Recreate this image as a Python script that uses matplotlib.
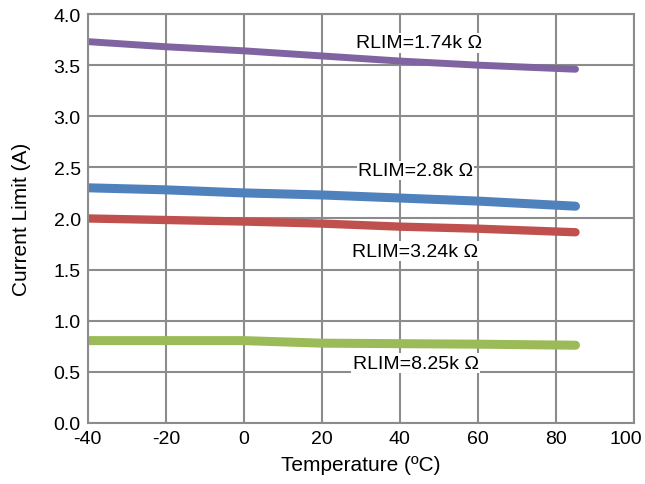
import matplotlib
matplotlib.use("Agg")
from matplotlib import pyplot as plt
from matplotlib.transforms import ScaledTranslation

plt.rcParams['font.family'] = ['Liberation Sans', 'DejaVu Sans']
plt.rcParams['axes.unicode_minus'] = False

temp = [-40, -20, 0, 20, 40, 60, 85]
i_174 = [3.73, 3.68, 3.64, 3.59, 3.54, 3.50, 3.46]
i_28 = [2.30, 2.28, 2.25, 2.23, 2.20, 2.17, 2.12]
i_324 = [2.00, 1.985, 1.97, 1.95, 1.92, 1.90, 1.865]
i_825 = [0.805, 0.805, 0.805, 0.78, 0.775, 0.77, 0.76]

labels = ['RLIM=1.74k Ω', 'RLIM=2.8k Ω', 'RLIM=3.24k Ω', 'RLIM=8.25k Ω']
label_pos = [(45, 3.72), (44, 2.47), (44, 1.68), (44, 0.585)]

fig = plt.figure(figsize=(6.45, 4.85), dpi=100)
ax = fig.add_axes([0.136, 0.126, 0.847, 0.843])

ax.plot(temp, i_174, color='#8064a2', lw=5, solid_capstyle='round')
ax.plot(temp, i_28, color='#4f81bd', lw=6.5, solid_capstyle='round')
ax.plot(temp, i_324, color='#c0504d', lw=6, solid_capstyle='round')
ax.plot(temp, i_825, color='#9bbb59', lw=6.5, solid_capstyle='round')

for txt, (x, y) in zip(labels, label_pos):
    ax.text(x, y, txt, ha='center', va='center', fontsize=14,
            bbox=dict(facecolor='white', edgecolor='none', pad=1))

ax.set_xlim(-40, 100)
ax.set_ylim(0, 4)
ax.set_xticks(range(-40, 101, 20))
ax.set_yticks([0, 0.5, 1, 1.5, 2, 2.5, 3, 3.5, 4])
ax.set_yticklabels(['%.1f' % v for v in ax.get_yticks()])
ax.grid(True, color='#8c8c8c', lw=1.5)
ax.set_axisbelow(True)
for s in ax.spines.values():
    s.set_color('#8c8c8c')
    s.set_linewidth(1.5)
ax.tick_params(length=0, labelsize=14, pad=5)

# last x label sits a little left of its grid line, as in the original
last = ax.get_xticklabels()[-1]
last.set_transform(last.get_transform() + ScaledTranslation(-0.08, 0, fig.dpi_scale_trans))

ax.set_xlabel('Temperature (ºC)', fontsize=15, labelpad=6)
ax.set_ylabel('Current Limit (A)', fontsize=15, labelpad=16)

fig.savefig('out.png')
